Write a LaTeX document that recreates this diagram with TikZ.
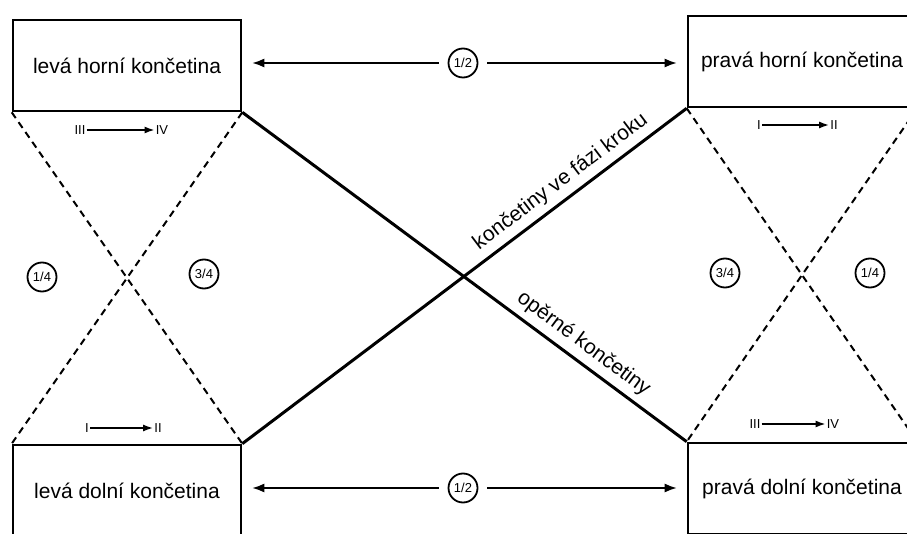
\documentclass[tikz,border=0pt]{standalone}
\usepackage{fontspec}
\setmainfont{Liberation Sans}
\usetikzlibrary{arrows.meta}
\begin{document}
\begin{tikzpicture}[x=1pt,y=-1pt,
  limbbox/.style={draw,line width=2.6pt,minimum width=228pt,minimum height=91pt,inner sep=0pt,font=\fontsize{21}{22}\selectfont},
  thickline/.style={line width=3pt},
  dashline/.style={line width=2pt,dash pattern=on 7pt off 5pt},
  bigarrow/.style={line width=1.6pt,-{Latex[length=12pt,width=9pt]}},
  smallarrow/.style={line width=1.8pt,-{Latex[length=10pt,width=7pt]}},
  frac/.style={circle,draw,line width=1.8pt,minimum size=29pt,inner sep=0pt,font=\fontsize{13}{13}\selectfont},
  roman/.style={inner sep=1pt,font=\fontsize{13}{13}\selectfont},
  linelabel/.style={sloped,above,inner sep=6pt,font=\fontsize{21}{22}\selectfont}]
\useasboundingbox (0,0) rectangle (907,534);
\clip (0,0) rectangle (907,534);
% boxes
\node[limbbox] (lh) at (127,65.5) {levá horní končetina};
\node[limbbox] (ph) at (802,61.5) {pravá horní končetina};
\node[limbbox] (ld) at (127,490.5) {levá dolní končetina};
\node[limbbox] (pd) at (802,488.5) {pravá dolní končetina};
% dashed crosses
\draw[dashline] (lh.south west) -- (ld.north east);
\draw[dashline] (lh.south east) -- (ld.north west);
\draw[dashline] (ph.south west) -- (pd.north east);
\draw[dashline] (ph.south east) -- (pd.north west);
% thick diagonals
\draw[thickline] (lh.south east) -- node[linelabel,pos=0.745] (oper) {opěrné končetiny} (pd.north west);
\draw[thickline] (ld.north east) -- node[linelabel,pos=0.74] (faze) {končetiny ve fázi kroku} (ph.south west);
% fraction circles
\node[frac] (c1) at (463,63) {1/2};
\node[frac] (c2) at (463,488) {1/2};
\node[frac] (l14) at (42,277) {1/4};
\node[frac] (l34) at (204,274) {3/4};
\node[frac] (r34) at (725,273) {3/4};
\node[frac] (r14) at (870,273) {1/4};
% horizontal arrows
\draw[bigarrow,shorten <=9pt,shorten >=10pt] (c1.west) -- (c1 -| lh.east);
\draw[bigarrow,shorten <=9pt,shorten >=10pt] (c1.east) -- (c1 -| ph.west);
\draw[bigarrow,shorten <=9pt,shorten >=10pt] (c2.west) -- (c2 -| ld.east);
\draw[bigarrow,shorten <=9pt,shorten >=10pt] (c2.east) -- (c2 -| pd.west);
% small phase arrows
\node[roman] (a1) at (80,130) {III};
\node[roman] (a2) at (162,130) {IV};
\draw[smallarrow] (a1.east) -- (a2.west);
\node[roman] (b1) at (759,125) {I};
\node[roman] (b2) at (834,125) {II};
\draw[smallarrow] (b1.east) -- (b2.west);
\node[roman] (d1) at (87,428) {I};
\node[roman] (d2) at (158,428) {II};
\draw[smallarrow] (d1.east) -- (d2.west);
\node[roman] (e1) at (755,424) {III};
\node[roman] (e2) at (833,424) {IV};
\draw[smallarrow] (e1.east) -- (e2.west);
\end{tikzpicture}
\end{document}
